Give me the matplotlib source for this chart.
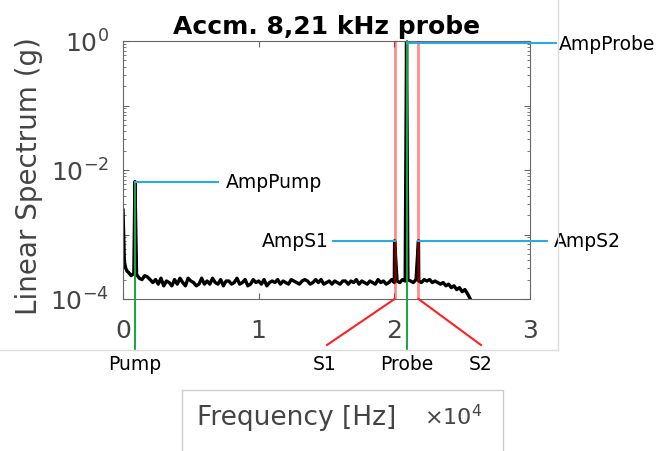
import numpy as np
import matplotlib
matplotlib.use("Agg")
from matplotlib import pyplot as plt
from matplotlib import transforms
from matplotlib.lines import Line2D
from matplotlib.patches import Rectangle
from matplotlib.ticker import LogLocator, NullFormatter

W, H = 657, 452

# spectrum: low-frequency part (Hz, g)
dc_freq = [0, 50, 100, 200, 300]
dc_amp = [24e-4, 9e-4, 3.8e-4, 3.0e-4, 2.7e-4]

# noise floor, 400 Hz .. 25600 Hz every 200 Hz (values in 1e-4 g)
floor_freq = list(range(400, 25601, 200))
floor_amp = [
    2.6, 2.3, 2.5, 2.4, 2.1, 2.0, 2.3, 2.2, 2.0, 1.8,
    2.0, 1.7, 2.1, 1.6, 1.9, 1.8, 1.6, 2.0, 1.7, 2.1,
    1.8, 1.6, 2.1, 1.9, 1.8, 1.6, 1.7, 2.1, 1.7, 1.9,
    1.7, 2.1, 1.8, 1.7, 2.0, 1.6, 1.9, 1.9, 1.7, 1.8,
    2.1, 1.7, 1.8, 2.0, 1.6, 1.7, 2.0, 1.8, 1.9, 1.7,
    2.0, 1.6, 1.8, 1.9, 1.8, 2.0, 1.7, 1.9, 1.8, 1.7,
    2.0, 1.9, 1.8, 1.7, 1.9, 2.0, 1.9, 1.7, 1.8, 2.0,
    1.8, 2.0, 1.7, 1.8, 1.9, 1.7, 1.9, 1.8, 1.7, 1.9,
    1.9, 1.7, 1.9, 1.8, 2.0, 1.7, 1.9, 1.8, 1.7, 1.9,
    1.8, 1.7, 2.0, 1.8, 1.9, 1.7, 1.8, 2.0, 1.8, 1.9,
    1.8, 2.0, 1.9, 2.0, 1.9, 1.8, 2.0, 1.9, 1.8, 2.0,
    1.9, 2.0, 1.8, 1.9, 1.8, 1.7, 1.8, 1.6, 1.7, 1.5,
    1.6, 1.4, 1.5, 1.3, 1.4, 1.2, 1.0,
]

# peaks
peak_names = ["Pump", "S1", "Probe", "S2"]
peak_freq = [880, 20020, 20900, 21780]
peak_amp = [6.6e-3, 8.0e-4, 1.0, 8.0e-4]

freq = np.array(dc_freq + floor_freq + peak_freq, dtype=float)
amp = np.array(dc_amp + [a * 1e-4 for a in floor_amp] + peak_amp)
order = np.argsort(freq)

fig = plt.figure(figsize=(W / 100, H / 100), dpi=100)
ax = fig.add_axes([123 / W, 1 - 300 / H, (530 - 123) / W, (300 - 42) / H])

ax.plot(freq[order] / 1e4, amp[order], color="black", lw=2.4, zorder=2)
ax.set_yscale("log")
ax.set_xlim(0, 3)
ax.set_ylim(1e-4, 1)
ax.set_xticks([0, 1, 2, 3])
ax.set_xticklabels(["0", "1", "2", "3"])
ax.set_yticks([1e-4, 1e-3, 1e-2, 1e-1, 1])
ax.set_yticklabels([r"$10^{-4}$", "", r"$10^{-2}$", "", r"$10^{0}$"])
ax.yaxis.set_minor_locator(LogLocator(subs=range(2, 10)))
ax.yaxis.set_minor_formatter(NullFormatter())
ax.tick_params(which="both", direction="in", top=True, right=True,
               colors="#666666", labelcolor="#444444", labelsize=18)
ax.tick_params(axis="x", pad=14)
ax.tick_params(axis="y", pad=10)
ax.tick_params(which="major", length=4)
ax.tick_params(which="minor", length=2)
for s in ax.spines.values():
    s.set_color("#666666")
ax.set_title("Accm. 8,21 kHz probe", fontsize=18, fontweight="bold", pad=6)
fig.text(29 / W, 1 - 176 / H, "Linear Spectrum (g)", rotation=90,
         ha="center", va="center", fontsize=20, color="#444444")


def to_data(px, py):
    return ax.transData.inverted().transform((px, H - py))


fx = [f / 1e4 for f in peak_freq]
pump_x, s1_x, probe_x, s2_x = fx
pump_a, s1_a, probe_a, s2_a = peak_amp
y_low = to_data(0, 351)[1]
y_diag = to_data(0, 346)[1]

# red lines for sidebands
for x, end_px in [(s1_x, 327), (s2_x, 481)]:
    ax.axvline(x, color="red", alpha=0.45, lw=2, zorder=3)
    ax.plot([x, to_data(end_px, 0)[0]], [1e-4, y_diag], color="#ff2020",
            lw=1.5, clip_on=False, zorder=3)

# green lines for pump and probe
for x, a in [(pump_x, pump_a), (probe_x, probe_a)]:
    ax.plot([x, x], [a, y_low], color="#10a848", lw=1.4, clip_on=False,
            zorder=4)

# blue amplitude markers
blue = "#29abe2"
blend = transforms.blended_transform_factory(fig.transFigure, ax.transData)
amp_marks = [
    ("AmpPump", pump_x, pump_a, 218, 226, "left"),
    ("AmpS1", s1_x, s1_a, 333, 329, "right"),
    ("AmpProbe", probe_x, probe_a * 0.93, 556, 559, "left"),
    ("AmpS2", s2_x, s2_a, 547, 554, "left"),
]
for name, x, a, end_px, txt_px, ha in amp_marks:
    ax.plot([x, to_data(end_px, 0)[0]], [a, a], color=blue, lw=1.5,
            clip_on=False, zorder=5)
    ax.text(txt_px / W, a, name, transform=blend, ha=ha, va="center",
            fontsize=13.5, color="black")

# labels under the axes
for name, cx in zip(peak_names, [135, 325, 407, 481]):
    fig.text(cx / W, 1 - 365 / H, name, ha="center", va="center",
             fontsize=13.5, color="black")

# frame of the original figure and the x label box
fig.add_artist(Line2D([558 / W, 558 / W], [1 - 351 / H, 1], color="#dddddd",
                      lw=1))
fig.add_artist(Line2D([0, 558 / W], [1 - 351 / H, 1 - 351 / H],
                      color="#dddddd", lw=1))
fig.add_artist(Rectangle((182 / W, -0.1), (503 - 182) / W, 0.1 + 1 - 391 / H,
                         fill=False, edgecolor="#cccccc", lw=1))
fig.text(197 / W, 1 - 418 / H, "Frequency [Hz]", ha="left", va="center",
         fontsize=19, color="#444444")
fig.text(424 / W, 1 - 417 / H, r"$\times10^{4}$", ha="left", va="center",
         fontsize=16, color="#444444")

fig.savefig("out.png", dpi=100)
